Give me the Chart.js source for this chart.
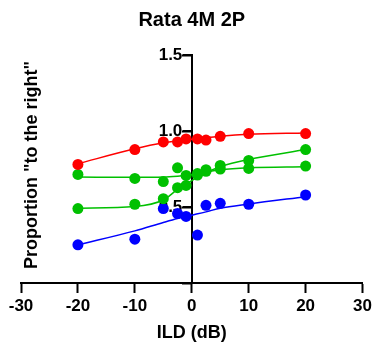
<!DOCTYPE html>
<html>
<head>
<meta charset="utf-8">
<script src="https://cdn.jsdelivr.net/npm/chart.js@4/dist/chart.umd.min.js"></script>
<style>
  html, body { margin: 0; padding: 0; background: #fff; }
  #wrap { width: 375px; height: 349px; }
</style>
</head>
<body>
<div id="wrap"><canvas id="grafico"></canvas></div>
<script>
// valores de ILD (dB) medidos
const ild = [-20, -10, -5, -2.5, -1, 1, 2.5, 5, 10, 20];
// proporcion "to the right" de cada serie
const rojo = [0.78, 0.878, 0.928, 0.928, 0.948, 0.948, 0.94, 0.965, 0.983, 0.983];
const verdeA = [0.714, 0.688, 0.667, 0.758, 0.708, 0.71, 0.735, 0.75, 0.754, 0.769];
const verdeB = [0.49, 0.518, 0.555, 0.627, 0.642, 0.72, 0.745, 0.773, 0.806, 0.878];
const azul = [0.251, 0.288, 0.49, 0.457, 0.438, 0.315, 0.511, 0.524, 0.518, 0.579];

// curvas ajustadas
const ildAjuste = [-20, -10, -5, -2.5, 0, 2.5, 5, 10, 20];
const rojoAjuste = [0.785, 0.883, 0.922, 0.935, 0.945, 0.955, 0.965, 0.978, 0.987];
const verdeAAjuste = [0.697, 0.695, 0.697, 0.703, 0.712, 0.73, 0.745, 0.758, 0.765];
const verdeBAjuste = [0.492, 0.503, 0.546, 0.616, 0.674, 0.725, 0.765, 0.813, 0.878];
const azulAjuste = [0.251, 0.343, 0.398, 0.424, 0.446, 0.468, 0.492, 0.52, 0.568];

const xTicks = [-30, -20, -10, 0, 10, 20, 30];

const ROJO = "rgb(255,0,0)";
const VERDE = "rgb(0,192,0)";
const AZUL = "rgb(0,0,255)";
const FUENTE = "'Liberation Sans', Arial, sans-serif";

function puntos(xs, ys) {
  const arr = [];
  for (let i = 0; i < xs.length; i++) {
    arr.push({ x: xs[i], y: ys[i] });
  }
  return arr;
}

function serie(ys, color) {
  return {
    type: "scatter",
    data: puntos(ild, ys),
    backgroundColor: color,
    borderColor: color,
    pointRadius: 5.5,
    pointHoverRadius: 5.5,
    borderWidth: 0,
    order: 0,
  };
}

function ajuste(ys, color) {
  return {
    type: "line",
    data: puntos(ildAjuste, ys),
    borderColor: color,
    borderWidth: 1.5,
    pointRadius: 0,
    fill: false,
    cubicInterpolationMode: "monotone",
    order: 1,
  };
}

// titulo del eje y y marcas del eje y (el eje y cruza en x = 0)
const ejeY = {
  id: "ejeY",
  afterDraw(chart) {
    const ctx = chart.ctx;
    const sx = chart.scales.x;
    const sy = chart.scales.y;
    const x0 = sx.getPixelForValue(0);
    ctx.save();
    ctx.strokeStyle = "#000";
    ctx.lineWidth = 2;
    sy.ticks.forEach((t) => {
      const py = Math.round(sy.getPixelForValue(t.value));
      ctx.beginPath();
      ctx.moveTo(x0, py);
      ctx.lineTo(x0 - 9, py);
      ctx.stroke();
    });
    ctx.restore();

    ctx.save();
    ctx.translate(32, 165);
    ctx.rotate(-Math.PI / 2);
    ctx.font = "bold 18px " + FUENTE;
    ctx.fillStyle = "#000";
    ctx.textAlign = "center";
    ctx.textBaseline = "middle";
    ctx.fillText('Proportion "to the right"', 0, 0);
    ctx.restore();
  },
};

new Chart(document.getElementById("grafico"), {
  data: {
    datasets: [
      serie(rojo, ROJO),
      serie(verdeA, VERDE),
      serie(verdeB, VERDE),
      serie(azul, AZUL),
      ajuste(rojoAjuste, ROJO),
      ajuste(verdeAAjuste, VERDE),
      ajuste(verdeBAjuste, VERDE),
      ajuste(azulAjuste, AZUL),
    ],
  },
  options: {
    responsive: true,
    maintainAspectRatio: false,
    animation: false,
    layout: { padding: { left: 21, right: 12, top: 0, bottom: 1 } },
    plugins: {
      legend: { display: false },
      tooltip: { enabled: false },
      title: {
        display: true,
        text: "Rata 4M 2P",
        color: "#000",
        fullSize: false,
        font: { family: FUENTE, size: 20, weight: "bold" },
        padding: { top: 8, bottom: 23 },
      },
    },
    scales: {
      x: {
        type: "linear",
        min: -30,
        max: 30,
        afterBuildTicks(scale) {
          scale.ticks = xTicks.map((v) => ({ value: v }));
        },
        border: { display: true, color: "#000", width: 2 },
        grid: {
          drawOnChartArea: false,
          drawTicks: true,
          tickLength: 10,
          tickWidth: 2,
          tickColor: "#000",
        },
        ticks: {
          color: "#000",
          padding: 3,
          maxRotation: 0,
          font: { family: FUENTE, size: 17, weight: "bold" },
        },
        title: {
          display: true,
          text: "ILD (dB)",
          color: "#000",
          padding: { top: 3, bottom: 4 },
          font: { family: FUENTE, size: 18, weight: "bold" },
        },
      },
      y: {
        type: "linear",
        position: { x: 0 },
        min: 0,
        max: 1.5,
        border: { display: true, color: "#000", width: 2 },
        grid: {
          drawOnChartArea: false,
          drawTicks: true,
          tickLength: 9,
          tickWidth: 2,
          tickColor: "#000",
        },
        ticks: {
          stepSize: 0.5,
          color: "#000",
          font: { family: FUENTE, size: 17, weight: "bold" },
          callback: function (v) {
            if (v === 0) return "";
            return v.toFixed(1) + "  ";
          },
        },
      },
    },
  },
  plugins: [ejeY],
});
</script>
</body>
</html>
